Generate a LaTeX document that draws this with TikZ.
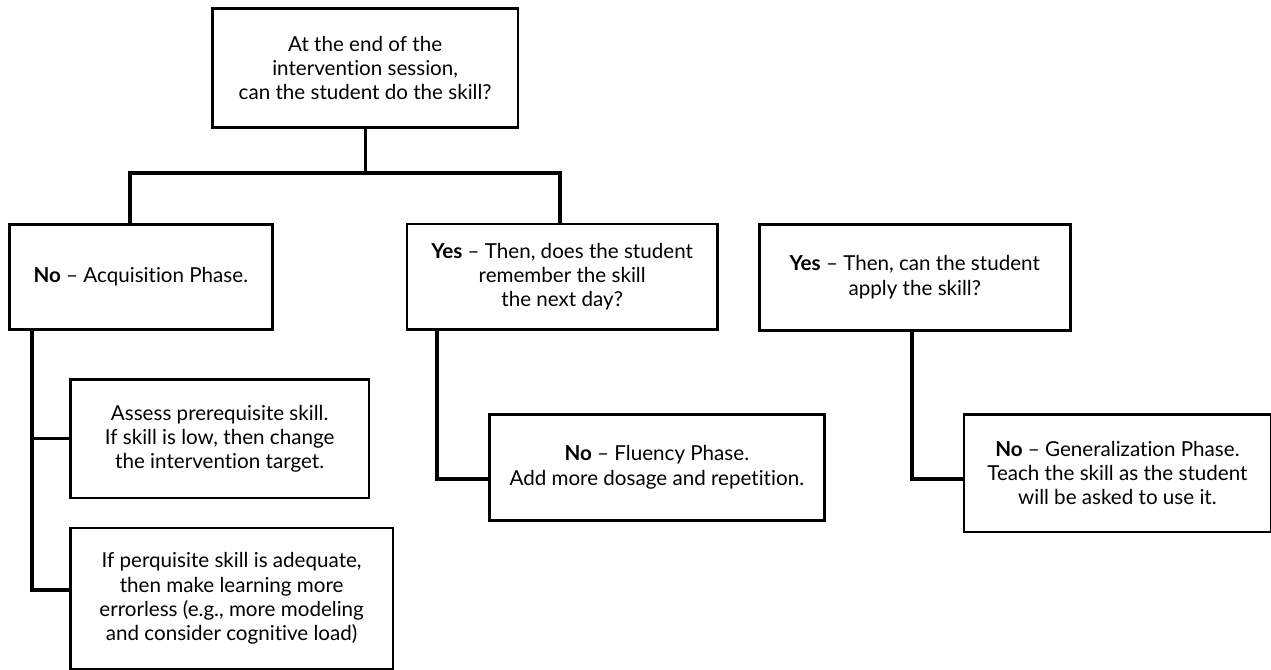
\documentclass[tikz,border=0pt]{standalone}
\usepackage{fontspec}
\setmainfont{Lato}[Ligatures={NoCommon}]
\begin{document}
\begin{tikzpicture}[x=1pt,y=-1pt,
  box/.style={draw=black,line width=2.6pt,inner sep=0pt,align=center,anchor=north west,
    font=\fontsize{20.6}{24.3}\selectfont},
  conn/.style={draw=black,line width=3.2pt}]
\useasboundingbox (0,0) rectangle (1271,669);
\fill[white] (0,0) rectangle (1271,669);

% question at the top
\node[box,minimum width=305.7pt,minimum height=119pt] (top) at (211,7)
  {At the end of the\\intervention session,\\can the student do the skill?};

% first level
\node[box,minimum width=263pt,minimum height=105pt] (no) at (8,223)
  {\textbf{No} -- Acquisition Phase.};
\node[box,minimum width=310.3pt,minimum height=105.3pt] (mid) at (405.7,222.7)
  {\textbf{Yes} -- Then, does the student\\remember the skill\\the next day?};
\node[box,minimum width=311pt,minimum height=106pt] (apply) at (758,223)
  {\textbf{Yes} -- Then, can the student\\apply the skill?};

% acquisition branch
\node[box,minimum width=298.7pt,minimum height=118.7pt] (assess) at (69,378)
  {Assess prerequisite skill.\\If skill is low, then change\\the intervention target.};
\node[box,minimum width=322.7pt,minimum height=141pt] (errless) at (69,526.7)
  {If perquisite skill is adequate,\\then make learning more\\errorless (e.g., more modeling\\and consider cognitive load)};

% fluency and generalization
\node[box,minimum width=335pt,minimum height=106pt] (flu) at (488,413)
  {\textbf{No} -- Fluency Phase.\\Add more dosage and repetition.};
\node[box,minimum width=306.8pt,minimum height=117.7pt] (gen) at (962.7,413)
  {\textbf{No} -- Generalization Phase.\\Teach the skill as the student\\will be asked to use it.};

% junction points
\coordinate (hl) at (130,173);
\coordinate (hr) at (560,173);
\coordinate (lb) at (32,590);
\coordinate (mb) at (437,479);
\coordinate (rb) at (912,479);

% connectors
\draw[conn] (top.south) -- (top.south |- hl);
\draw[conn] (hl |- no.north) -- (hl) -- (hr) -- (hr |- mid.north);
\draw[conn] (lb |- no.south) -- (lb) -- (lb -| errless.west);
\draw[conn] (lb |- assess.west) -- (assess.west);
\draw[conn] (mb |- mid.south) -- (mb) -- (mb -| flu.west);
\draw[conn] (rb |- apply.south) -- (rb) -- (rb -| gen.west);
\end{tikzpicture}
\end{document}
